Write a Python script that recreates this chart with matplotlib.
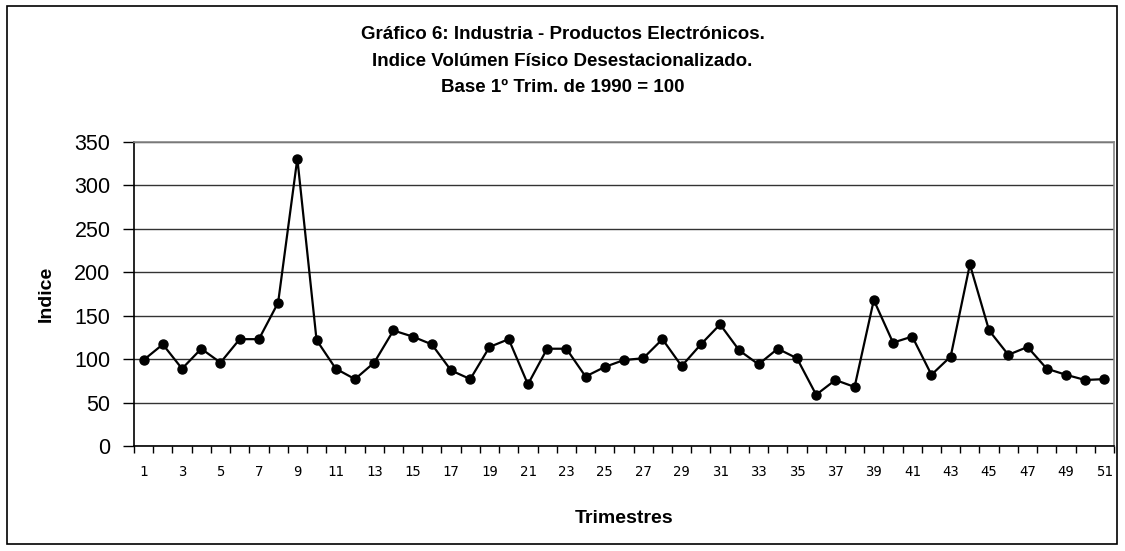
import numpy as np
from matplotlib import pyplot as plt
from matplotlib.patches import Rectangle

# Trimestres 1..51 (desde 1er trim. 1990)
trimestres = np.arange(1, 52)
indice = [99, 117, 89, 112, 96, 123, 123, 165, 331, 122,
          89, 77, 96, 133, 126, 117, 87, 77, 114, 123,
          71, 112, 112, 80, 91, 99, 101, 123, 92, 117,
          140, 110, 94, 112, 101, 59, 76, 68, 168, 119,
          126, 82, 103, 209, 133, 105, 114, 89, 82, 76,
          77]
y_ticks = [0, 50, 100, 150, 200, 250, 300, 350]

titulo = ("Gráfico 6: Industria - Productos Electrónicos.\n"
          "Indice Volúmen Físico Desestacionalizado.\n"
          "Base 1º Trim. de 1990 = 100")

fig = plt.figure(figsize=(11.25, 5.51), dpi=100)
ax = fig.add_axes([134/1125, 1 - 446/551, 980/1125, 304/551])

ax.plot(trimestres, indice, color='black', lw=1.6, marker='o', ms=6.5, zorder=3)

ax.set_xlim(0.5, 51.5)
ax.set_ylim(0, 350)
ax.set_yticks(y_ticks)
ax.set_yticklabels([str(v) for v in y_ticks], fontfamily='Liberation Sans')
ax.grid(axis='y', color='#333333', lw=1)
ax.set_axisbelow(True)

# labels every other quarter, ticks between categories
ax.set_xticks(trimestres[::2])
ax.set_xticklabels([str(t) for t in trimestres[::2]], fontfamily='DejaVu Sans Mono')
ax.set_xticks(np.arange(0.5, 52, 1), minor=True)
ax.tick_params(axis='x', which='major', length=0, pad=14, labelsize=10)
ax.tick_params(axis='x', which='minor', length=5, width=1, direction='out')
ax.tick_params(axis='y', length=8, width=1, pad=9, labelsize=15.5)

for s in ['left', 'bottom']:
    ax.spines[s].set_color('black')
    ax.spines[s].set_linewidth(1.2)
for s in ['top', 'right']:
    ax.spines[s].set_color('#888888')
    ax.spines[s].set_linewidth(1.2)

ax.set_ylabel("Indice", fontsize=14, fontweight='bold', family='Liberation Sans', labelpad=14)
ax.set_xlabel("Trimestres", fontsize=14, fontweight='bold', family='Liberation Sans', labelpad=22)

fig.text(0.5, 1 - 61/551, titulo, ha='center', va='center', fontsize=13.5,
         fontweight='bold', family='Liberation Sans', linespacing=1.75)

fig.patches.append(Rectangle((7/1125, 7/551), 1110/1125, 538/551, transform=fig.transFigure,
                             fill=False, ec='black', lw=1.2))

fig.savefig("out.png", dpi=100)
